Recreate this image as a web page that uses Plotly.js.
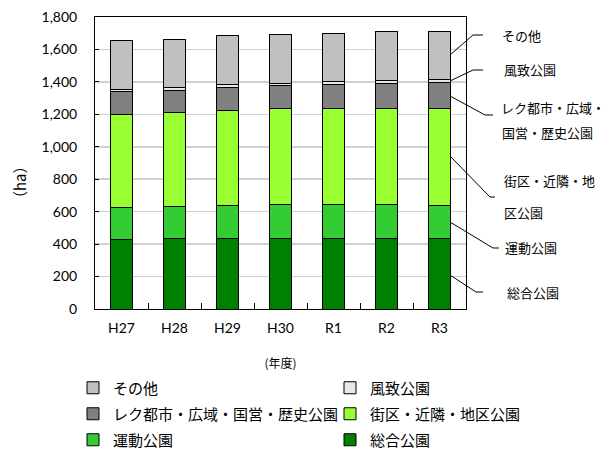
<!DOCTYPE html>
<html><head><meta charset="utf-8">
<script src="https://cdn.plot.ly/plotly-3.0.1.min.js"></script>
<style>html,body{margin:0;padding:0;background:#fff}#chart{width:605px;height:452px}</style>
</head><body><div id="chart"></div>
<script>
const categories = ['H27','H28','H29','H30','R1','R2','R3'];
const sogo   = [431,433,433,433,433,433,433];   // 総合公園
const undo   = [196,200,208,210,210,210,208];   // 運動公園
const gaiku  = [575,579,582,590,594,596,598];   // 街区・近隣・地区公園
const reku   = [136,138,141,142,148,154,158];   // レク都市・広域・国営・歴史公園
const fuchi  = [16,17,17,16,16,14,15];          // 風致公園
const sonota = [300,295,302,302,300,305,300];   // その他

const seriesNames = ['総合公園','運動公園','街区・近隣・地区公園','レク都市・広域・国営・歴史公園','風致公園','その他'];
const seriesVals = [sogo, undo, gaiku, reku, fuchi, sonota];
const colors = ['#008000','#33cc33','#99ff33','#808080','#e8e8e8','#c0c0c0'];

const W=605, H=452;
const L=95, R=466, T=17, B=309;
const px = x => (x-L)/(R-L);
const py = y => (B-y)/(B-T);

const JP = '"Noto Sans CJK JP", sans-serif';
const NUM = 'Lato, "Noto Sans CJK JP", sans-serif';

// legend slot for each series: [left px, centre y px]
const legendSlots = [[330,440],[73,440],[330,414],[73,414],[330,388],[73,388]];
const legendKeys = ['legend','legend2','legend3','legend4','legend5','legend6'];

const traces = seriesNames.map((n,i)=>({
  type:'bar', name:n, x:categories, y:seriesVals[i],
  marker:{color:colors[i], line:{color:'#000', width:1}},
  legend:legendKeys[i], hoverinfo:'skip'
}));

const leaders = [
  [[450,55],[473,35],[483,35]],
  [[450,81],[473,70],[483,70]],
  [[450,96],[485,115],[493,115]],
  [[450,156],[490,197],[495,197]],
  [[450,222],[493,248],[499,248]],
  [[450,275],[476,292],[483,292]]
];
const shapes = leaders.map(p=>({
  type:'path', xref:'paper', yref:'paper',
  path:'M'+p.map(q=>px(q[0])+','+py(q[1])).join(' L'),
  line:{color:'#000', width:1}
}));

const labelTexts = ['その他','風致公園','レク都市・広域・','国営・歴史公園','街区・近隣・地','区公園','運動公園','総合公園'];
const labelPos = [[500,35],[502,70],[499,107],[500,132],[502,180],[502,212],[503,248],[505,292]];
const annotations = labelTexts.map((t,i)=>({
  text:t, xref:'paper', yref:'paper', x:px(labelPos[i][0]), y:py(labelPos[i][1]),
  xanchor:'left', yanchor:'middle', showarrow:false, font:{family:JP, size:13, color:'#000'}
}));
annotations.push({text:'（ha）', xref:'paper', yref:'paper', x:px(20), y:py(182), textangle:-90,
  xanchor:'center', yanchor:'middle', showarrow:false, font:{family:JP, size:15, color:'#000'}});

const layout = {
  width:W, height:H,
  margin:{l:L, r:W-R, t:T, b:H-B, autoexpand:false},
  paper_bgcolor:'#fff', plot_bgcolor:'#fff',
  barmode:'stack', bargap:0.6,
  font:{family:NUM, size:14, color:'#000'},
  xaxis:{type:'category', showline:true, linecolor:'#000', linewidth:1, mirror:true,
    ticks:'inside', tickson:'boundaries', ticklen:6, tickcolor:'#000',
    ticklabelstandoff:6, tickfont:{family:NUM, size:14},
    title:{text:'(年度)', font:{family:JP, size:12}, standoff:32}},
  yaxis:{range:[0,1800], dtick:200, tickformat:',', showline:true, linecolor:'#000', linewidth:1, mirror:true,
    showgrid:true, gridcolor:'#d0d0d0', gridwidth:1.5, ticks:'inside', ticklen:4, tickcolor:'#000',
    ticklabelstandoff:14, tickfont:{family:NUM, size:14}, zeroline:false},
  shapes:shapes, annotations:annotations, showlegend:true
};
legendKeys.forEach((k,i)=>{
  layout[k] = {orientation:'h', xref:'container', yref:'container',
    x:legendSlots[i][0]/W, y:1-legendSlots[i][1]/H, xanchor:'left', yanchor:'middle',
    font:{family:JP, size:15, color:'#000'}, bgcolor:'rgba(0,0,0,0)', borderwidth:0};
});

Plotly.newPlot('chart', traces, layout, {displayModeBar:false, staticPlot:true});
</script></body></html>
